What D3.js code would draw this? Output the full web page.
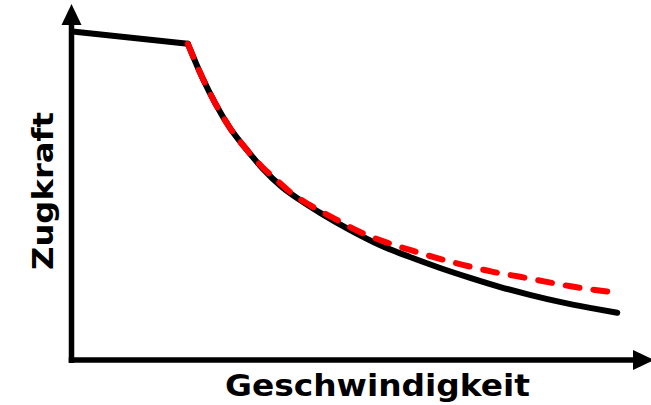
<!DOCTYPE html>
<html>
<head>
<meta charset="utf-8">
<script src="https://cdn.jsdelivr.net/npm/d3@7"></script>
<style>
html,body{margin:0;padding:0;background:#fff;}
svg{display:block;}
</style>
</head>
<body>
<svg id="chart" width="651" height="405"></svg>
<script>
// Data (arbitrary units: speed 0..100, tractive force 0..100)
const plateauSpeed = [0.5, 20.4];
const plateauForce = [92.4, 89.0];
const actualSpeed = [20.4, 22.9, 25.2, 27.8, 30.5, 33.5, 37.0, 40.1, 43.7, 48.9, 54.2, 59.5, 64.8, 70.1, 75.4, 80.6, 85.9, 91.2, 96.0];
const actualForce = [89.0, 79.6, 72.2, 65.2, 59.5, 53.8, 48.4, 44.8, 41.1, 36.3, 32.0, 28.6, 25.5, 22.7, 20.1, 17.9, 15.9, 14.2, 12.8];
const idealSpeed = [20.4, 22.9, 25.2, 27.8, 30.5, 33.5, 37.0, 38.4, 41.9, 46.3, 50.7, 55.1, 59.5, 64.3, 68.8, 74.1, 78.9, 83.8, 88.6, 93.5, 95.1];
const idealForce = [89.0, 79.6, 72.2, 65.2, 59.5, 54.1, 49.0, 47.0, 43.3, 39.4, 35.7, 32.9, 30.6, 28.3, 26.4, 24.4, 23.0, 21.5, 20.1, 19.0, 18.7];
const xLabel = "Geschwindigkeit";
const yLabel = "Zugkraft";

const svg = d3.select("#chart");
const axisX = 71.5, axisY = 360;
const x = d3.scaleLinear().domain([0, 100]).range([72, 640]);
const y = d3.scaleLinear().domain([0, 100]).range([358, 5]);

const lineLin = d3.line().x(d => x(d[0])).y(d => y(d[1])).curve(d3.curveLinear);
const lineSmooth = d3.line().x(d => x(d[0])).y(d => y(d[1])).curve(d3.curveMonotoneX);

// axes with arrow heads
svg.append("line").attr("x1", axisX).attr("x2", axisX).attr("y1", axisY + 3).attr("y2", 22)
  .attr("stroke", "#000").attr("stroke-width", 5.5);
svg.append("path").attr("d", `M${axisX - 10},25 L${axisX},4 L${axisX + 10},25 Z`).attr("fill", "#000");
svg.append("line").attr("x1", axisX - 2.75).attr("x2", 636).attr("y1", axisY).attr("y2", axisY)
  .attr("stroke", "#000").attr("stroke-width", 5.5);
svg.append("path").attr("d", `M633,${axisY - 10} L654,${axisY} L633,${axisY + 10} Z`).attr("fill", "#000");

// black actual curve
svg.append("path").datum(d3.zip(plateauSpeed, plateauForce)).attr("d", lineLin)
  .attr("fill", "none").attr("stroke", "#000").attr("stroke-width", 6).attr("stroke-linecap", "round");
svg.append("path").datum(d3.zip(actualSpeed, actualForce)).attr("d", lineSmooth)
  .attr("fill", "none").attr("stroke", "#000").attr("stroke-width", 6).attr("stroke-linecap", "round");

// red dashed ideal hyperbola
svg.append("path").datum(d3.zip(idealSpeed, idealForce)).attr("d", lineSmooth)
  .attr("fill", "none").attr("stroke", "#ff0000").attr("stroke-width", 6)
  .attr("stroke-linecap", "round").attr("stroke-dasharray", "14,14");

// labels
svg.append("text").attr("x", 377.5).attr("y", 395.5).attr("text-anchor", "middle")
  .attr("font-family", "DejaVu Sans").attr("font-weight", "bold").attr("font-size", 30)
  .attr("textLength", 305).attr("lengthAdjust", "spacingAndGlyphs")
  .attr("fill", "#000").text(xLabel);
svg.append("text").attr("transform", "translate(53,191) rotate(-90)").attr("text-anchor", "middle")
  .attr("font-family", "DejaVu Sans").attr("font-weight", "bold").attr("font-size", 28)
  .attr("textLength", 158).attr("lengthAdjust", "spacingAndGlyphs")
  .attr("fill", "#000").text(yLabel);
</script>
</body>
</html>
